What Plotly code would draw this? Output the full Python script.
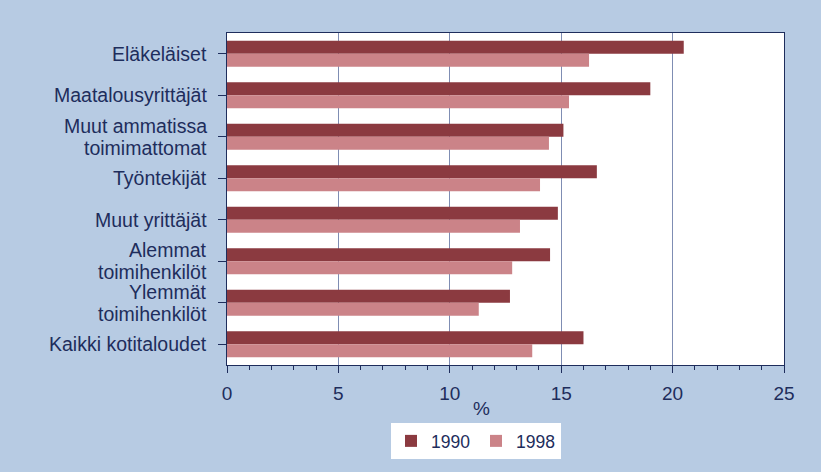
import plotly.graph_objects as go

categories = ["Eläkeläiset", "Maatalousyrittäjät", "Muut ammatissa<br>toimimattomat",
              "Työntekijät", "Muut yrittäjät", "Alemmat<br>toimihenkilöt",
              "Ylemmät<br>toimihenkilöt", "Kaikki kotitaloudet"]
values_1990 = [20.5, 19.0, 15.1, 16.6, 14.85, 14.5, 12.7, 16.0]
values_1998 = [16.25, 15.35, 14.45, 14.05, 13.15, 12.8, 11.3, 13.7]
series_names = ["1990", "1998"]
x_ticks = [0, 5, 10, 15, 20, 25]

BG = "#B7CBE3"
NAVY = "#1E2D5C"
DARK = "#8B3A40"
PINK = "#CB8388"
FONT = "Liberation Sans, Arial, sans-serif"

fig = go.Figure()
fig.add_trace(go.Bar(y=categories, x=values_1990, name=series_names[0], orientation="h",
                     marker=dict(color=DARK, line=dict(width=0))))
fig.add_trace(go.Bar(y=categories, x=values_1998, name=series_names[1], orientation="h",
                     marker=dict(color=PINK, line=dict(width=0))))

# category labels as separate text lines
LINE = 22
annotations = []
for cat in categories:
    lines = cat.split("<br>")
    n = len(lines)
    for i, ln in enumerate(lines):
        shift = (n - 1) / 2 * LINE - i * LINE
        annotations.append(dict(x=0, xref="paper", xanchor="right", xshift=-18,
                                y=cat, yref="y", yanchor="middle", yshift=shift,
                                text=ln, showarrow=False,
                                font=dict(family=FONT, size=19.5, color=NAVY)))
annotations.append(dict(x=(481 - 227) / 557, xref="paper", y=-(408 - 365) / 332, yref="paper",
                        yanchor="middle", text="%", showarrow=False,
                        font=dict(family=FONT, size=19, color=NAVY)))

fig.update_layout(
    width=821, height=472,
    paper_bgcolor=BG, plot_bgcolor="white",
    margin=dict(l=227, r=37, t=33, b=107),
    barmode="group", bargap=0.37, bargroupgap=0,
    font=dict(family=FONT, size=19, color=NAVY),
    showlegend=True,
    legend=dict(orientation="h", x=(391 - 227) / 557, xanchor="left",
                y=-(423 - 365) / 332, yanchor="top",
                bgcolor="white", font=dict(family=FONT, size=17.5, color=NAVY),
                itemwidth=30, entrywidth=40, traceorder="normal"),
    annotations=annotations,
)
fig.update_xaxes(range=[0, 25], tickvals=x_ticks, showgrid=True, gridcolor="#7F8DB3",
                 gridwidth=1, showline=True, linecolor=NAVY, linewidth=1.2, mirror=True,
                 ticks="outside", ticklen=7, tickcolor=NAVY, tickwidth=1,
                 ticklabelstandoff=4,
                 minor=dict(dtick=1, ticks="outside", ticklen=4, tickcolor=NAVY, showgrid=False),
                 tickfont=dict(family=FONT, size=19, color=NAVY), zeroline=False)
fig.update_yaxes(autorange="reversed", showticklabels=False, showline=True, linecolor=NAVY,
                 linewidth=1.2, mirror=True, ticks="outside", ticklen=8, tickcolor=NAVY,
                 showgrid=False)

fig.write_html("out.html", config={"displayModeBar": False},
               post_script="document.body.style.margin='0';document.body.style.background='%s';" % BG)
